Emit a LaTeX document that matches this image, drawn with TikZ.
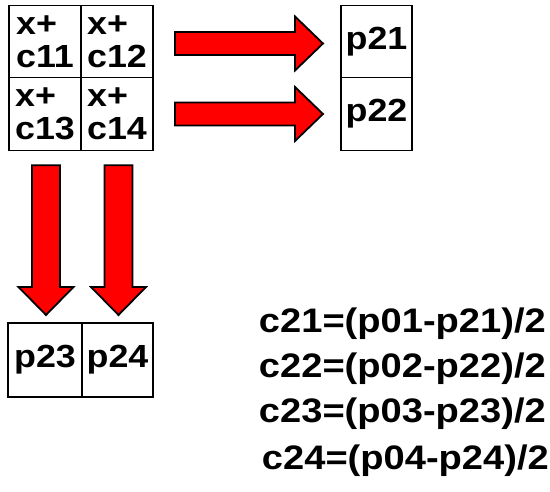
\documentclass[tikz,border=0pt]{standalone}
\usepackage{fontspec}
\newfontfamily\diagfont{Liberation Sans}[FakeStretch=1.12]
\usepackage{tikz}
\usetikzlibrary{positioning,calc}
\definecolor{arrowred}{HTML}{FF0000}

\begin{document}
\begin{tikzpicture}[x=1pt,y=-1pt,
 cell/.style={draw,line width=1.3pt,inner sep=0pt,outer sep=0pt,
   minimum width=72pt,minimum height=72.5pt,align=left,
   font=\diagfont\bfseries\fontsize{32}{33}\selectfont},
 eq/.style={anchor=east,inner sep=0pt,font=\diagfont\bfseries\fontsize{34}{36}\selectfont},
 arrshaft/.store in=\arrshaft, arrhead/.store in=\arrhead, arrlen/.store in=\arrlen,
 arrshaft=11.5pt, arrhead=27pt, arrlen=28pt,
 bigarrow/.style={fill=arrowred,draw=black,line width=1.8pt,line join=miter,
   to path={($(\tikztostart)!\arrshaft!90:(\tikztotarget)$)
     -- ($(\tikztotarget)!\arrlen!(\tikztostart)!\arrshaft!-90:(\tikztostart)$)
     -- ($(\tikztotarget)!\arrlen!(\tikztostart)!\arrhead!-90:(\tikztostart)$)
     -- (\tikztotarget)
     -- ($(\tikztotarget)!\arrlen!(\tikztostart)!\arrhead!90:(\tikztostart)$)
     -- ($(\tikztotarget)!\arrlen!(\tikztostart)!\arrshaft!90:(\tikztostart)$)
     -- ($(\tikztostart)!\arrshaft!-90:(\tikztotarget)$) -- cycle}}]
\useasboundingbox (0,0) rectangle (550,492);
% grid of x+c cells
\node[cell] (c11) at (45,41.5) {x+\\c11};
\node[cell,right=0pt of c11] (c12) {x+\\c12};
\node[cell,below=0pt of c11] (c13) {x+\\c13};
\node[cell,right=0pt of c13] (c14) {x+\\c14};
% results
\node[cell,minimum width=71pt] (p21) at (376.5,41.5) {p21};
\node[cell,minimum width=71pt,below=0pt of p21] (p22) {p22};
\node[cell,minimum width=74pt,minimum height=74pt] (p23) at (45,360) {p23};
\node[cell,minimum width=71pt,minimum height=74pt,right=0pt of p23] (p24) {p24};
% arrow ends
\coordinate (h1s) at ([xshift=22pt,yshift=-2pt]c12.east);
\coordinate (h1e) at ([xshift=-18pt,yshift=-2pt]p21.west);
\coordinate (h2s) at ([xshift=22pt]c14.east);
\coordinate (h2e) at ([xshift=-18pt]p22.west);
\coordinate (v1s) at ([xshift=1pt,yshift=-15pt]c13.south);
\coordinate (v1e) at ([xshift=1pt,yshift=8pt]p23.north);
\coordinate (v2s) at ([xshift=1.5pt,yshift=-15pt]c14.south);
\coordinate (v2e) at ([xshift=1pt,yshift=8pt]p24.north);
\draw[bigarrow] (h1s) to (h1e);
\draw[bigarrow] (h2s) to (h2e);
\draw[bigarrow,arrshaft=14pt,arrhead=27.5pt] (v1s) to (v1e);
\draw[bigarrow,arrshaft=14pt,arrhead=27.5pt] (v2s) to (v2e);
% equations
\node[eq] (e1) at (546,324) {c21=(p01-p21)/2};
\node[eq] (e2) at (546,369) {c22=(p02-p22)/2};
\node[eq] (e3) at (546,414) {c23=(p03-p23)/2};
\node[eq] (e4) at (549,461) {c24=(p04-p24)/2};
\end{tikzpicture}
\end{document}
